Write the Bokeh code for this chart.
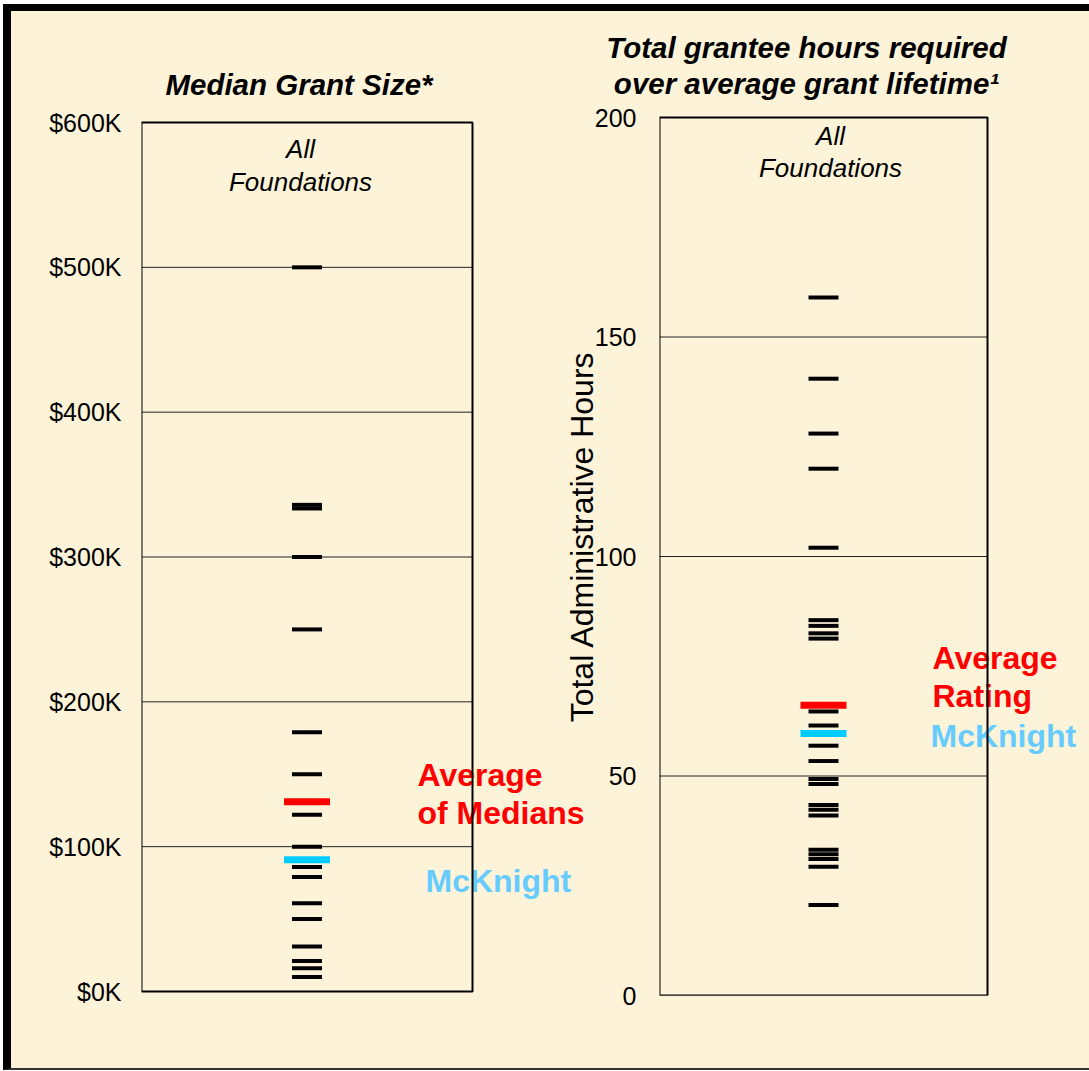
import math
from bokeh.plotting import figure
from bokeh.layouts import row
from bokeh.models import Label, FixedTicker, PrintfTickFormatter
from bokeh.core.properties import value
from bokeh.embed import file_html
from bokeh.resources import INLINE

# ---------------- data ----------------
# Left panel: median grant size ($K), all foundations
grant_values = [500, 336, 333.5, 300, 250, 179, 150, 122, 100, 86, 79, 61, 50, 31, 21, 16, 10]
grant_average = 131
grant_mcknight = 91
grant_ticks = [0, 100, 200, 300, 400, 500, 600]

# Right panel: total grantee hours over grant lifetime
hours_values = [159, 140.5, 128, 120, 102, 85.5, 84.2, 82.5, 81.3, 64.7, 61.5, 56.9,
                53.4, 49.3, 48.2, 43.4, 42.3, 41.0, 33.2, 32.2, 31.1, 29.3, 20.6]
hours_average = 66.1
hours_mcknight = 59.7
hours_ticks = [0, 50, 100, 150, 200]

# ---------------- style / layout (page pixels) ----------------
FONT = "Liberation Sans"
CREAM = "#FCF3D9"
RED = "#FF0000"
BAR_BLUE = "#00CCFF"
TEXT_BLUE = "#66CCFF"

ORIGIN = 11                      # content origin (after outer border)
H = 1057
FRAME_TOP, FRAME_BOTTOM = 22, 995
RIGHT_EDGE = 1089
BOX1 = dict(left=141, right=472, top=122, bottom=991)
BOX2 = dict(left=659, right=987, top=117, bottom=995)
P2_START = 541


def make_fig(box, x_start, ticks):
    lo, hi = ticks[0], ticks[-1]
    bw = box["right"] - box["left"]
    bh = box["bottom"] - box["top"]
    upp = (hi - lo) / bh
    width = RIGHT_EDGE - x_start
    p = figure(width=width, height=H,
               x_range=(0, (RIGHT_EDGE - box["left"]) / bw),
               y_range=(lo - (FRAME_BOTTOM - box["bottom"]) * upp,
                        hi + (box["top"] - FRAME_TOP) * upp),
               output_backend="svg", toolbar_location=None,
               min_border_left=box["left"] - x_start, min_border_right=0,
               min_border_top=FRAME_TOP - ORIGIN,
               min_border_bottom=ORIGIN + H - FRAME_BOTTOM)
    p.border_fill_color = None
    p.background_fill_color = None
    p.outline_line_color = None
    p.xaxis.visible = False
    p.grid.visible = False
    ax = p.yaxis[0]
    ax.ticker = FixedTicker(ticks=ticks)
    ax.axis_line_color = None
    ax.major_tick_line_color = None
    ax.minor_tick_line_color = None
    ax.major_tick_out = 0
    ax.major_tick_in = 0
    ax.minor_tick_out = 0
    ax.minor_tick_in = 0
    ax.major_label_text_font = FONT
    ax.major_label_text_font_size = "25px"
    ax.major_label_text_color = "black"

    def px(x):
        return (x - box["left"]) / bw

    def py(y):
        return lo + (box["bottom"] - y) * upp
    return p, px, py


def grid_lines(p, ticks):
    p.segment(x0=0, x1=1, y0=ticks, y1=ticks, line_color="#222222", line_width=1)


def marks(p, values, avg, mck):
    p.rect(x=0.5, y=values, width=30, height=4, width_units="screen",
           height_units="screen", fill_color="black", line_color=None)
    p.rect(x=0.5, y=[avg], width=46, height=7, width_units="screen",
           height_units="screen", fill_color=RED, line_color=None)
    p.rect(x=0.5, y=[mck], width=46, height=7, width_units="screen",
           height_units="screen", fill_color=BAR_BLUE, line_color=None)


def box_outline(p, ticks):
    p.quad(left=0, right=1, bottom=ticks[0], top=ticks[-1], fill_color=None,
           line_color="black", line_width=2)


def note(p, xs, ys, texts, color):
    p.text(x=xs, y=ys, text=texts, text_font=value(FONT), text_font_size="32px",
           text_font_style="bold", text_color=color, text_align="left",
           text_baseline="middle")


def label(p, x, y, text, size, style="normal", color="black", align="center",
          baseline="middle", angle=0):
    p.add_layout(Label(x=x, y=y, text=text, text_font=FONT, text_font_size=size,
                       text_font_style=style, text_color=color, text_align=align,
                       text_baseline=baseline, angle=angle))


# ---------------- left panel (its canvas spans the whole width) ----------------
p1, x1, y1 = make_fig(BOX1, ORIGIN, grant_ticks)
p1.yaxis.formatter = PrintfTickFormatter(format="$%dK")
p1.yaxis.major_label_standoff = 20
grid_lines(p1, grant_ticks)
note(p1, [x1(417), x1(417)], [y1(774), y1(812)], ["Average", "of Medians"], RED)
note(p1, [x1(425)], [y1(880)], ["McKnight"], TEXT_BLUE)
marks(p1, grant_values, grant_average, grant_mcknight)
box_outline(p1, grant_ticks)

label(p1, x1(298.5), y1(84), "Median Grant Size*", "29.5px", "bold italic", baseline="alphabetic")
label(p1, x1(300), y1(148), "All", "26px", "italic")
label(p1, x1(300), y1(181), "Foundations", "26px", "italic")
# titles of the right panel
label(p1, x1(806), y1(47), "Total grantee hours required", "29.5px", "bold italic",
      baseline="alphabetic")
label(p1, x1(806), y1(83), "over average grant lifetime\u00b9", "29.5px", "bold italic",
      baseline="alphabetic")
label(p1, x1(581.5), y1(536), "Total Administrative Hours", "32px", "normal",
      angle=math.pi / 2)

# ---------------- right panel (overlaid on the right part) ----------------
p2, x2, y2 = make_fig(BOX2, P2_START, hours_ticks)
p2.margin = (0, 0, 0, -(RIGHT_EDGE - P2_START))
p2.yaxis.major_label_standoff = 23
grid_lines(p2, hours_ticks)
note(p2, [x2(932), x2(932)], [y2(657), y2(695)], ["Average", "Rating"], RED)
note(p2, [x2(930)], [y2(735)], ["McKnight"], TEXT_BLUE)
marks(p2, hours_values, hours_average, hours_mcknight)
box_outline(p2, hours_ticks)

label(p2, x2(830), y2(135), "All", "26px", "italic")
label(p2, x2(830), y2(167), "Foundations", "26px", "italic")

layout = row(p1, p2, margin=(4, 0, 0, 3),
             styles={"background-color": CREAM,
                     "border-top": "7px solid black",
                     "border-left": "8px solid black",
                     "border-bottom": "2px solid #333333"})

open("out.html", "w").write(file_html(layout, INLINE))
